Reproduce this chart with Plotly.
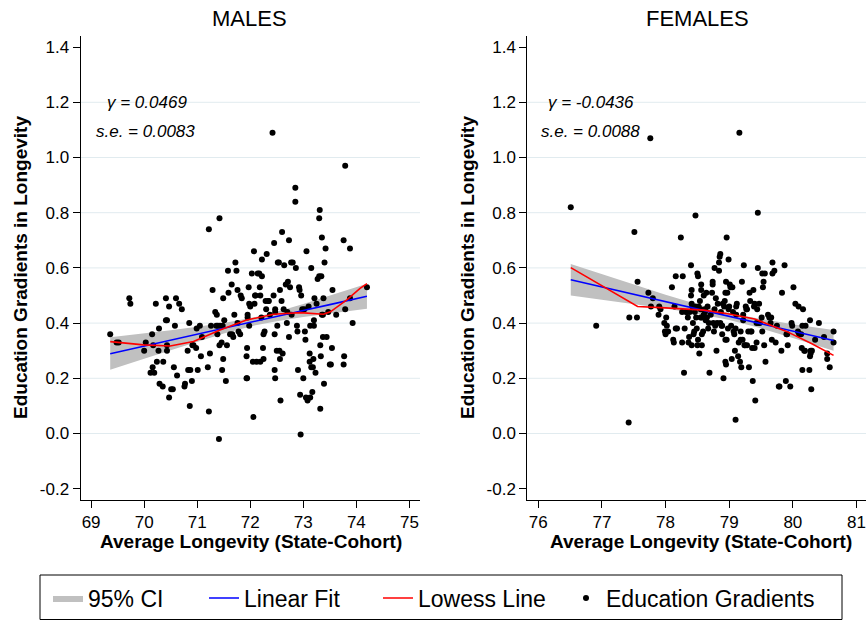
import plotly.graph_objects as go

# ---------------- data ----------------
male_x = [69.36, 69.48, 69.52, 69.72, 69.74, 70.00, 70.03, 70.12, 70.15, 70.16, 70.17, 70.19, 70.22, 70.24,
          70.27, 70.28, 70.29, 70.35, 70.36, 70.41, 70.41, 70.43, 70.43, 70.43, 70.47, 70.47, 70.51, 70.54,
          70.56, 70.58, 70.60, 70.62, 70.66, 70.71, 70.76, 70.77, 70.82, 70.83, 70.85, 70.86, 70.87, 70.90,
          70.91, 70.93, 70.98, 70.99, 71.01, 71.05, 71.07, 71.09, 71.20, 71.22, 71.22, 71.24, 71.26, 71.29,
          71.34, 71.36, 71.37, 71.38, 71.39, 71.41, 71.42, 71.42, 71.43, 71.46, 71.47, 71.48, 71.49, 71.49,
          71.51, 71.54, 71.56, 71.58, 71.59, 71.62, 71.65, 71.66, 71.68, 71.70, 71.72, 71.74, 71.76, 71.76,
          71.78, 71.81, 71.82, 71.84, 71.93, 71.93, 71.94, 71.94, 71.95, 71.95, 71.97, 71.98, 71.98, 72.00,
          72.03, 72.05, 72.06, 72.07, 72.08, 72.09, 72.10, 72.12, 72.14, 72.17, 72.18, 72.19, 72.19, 72.21,
          72.22, 72.22, 72.24, 72.25, 72.25, 72.27, 72.29, 72.30, 72.31, 72.34, 72.35, 72.37, 72.42, 72.44,
          72.45, 72.46, 72.46, 72.47, 72.47, 72.47, 72.50, 72.51, 72.52, 72.54, 72.55, 72.56, 72.56, 72.57,
          72.59, 72.60, 72.61, 72.63, 72.64, 72.67, 72.69, 72.70, 72.71, 72.73, 72.73, 72.75, 72.77, 72.78,
          72.80, 72.85, 72.85, 72.86, 72.88, 72.89, 72.90, 72.92, 72.93, 72.94, 72.95, 72.96, 72.98, 73.00,
          73.02, 73.03, 73.04, 73.05, 73.06, 73.08, 73.10, 73.12, 73.12, 73.13, 73.13, 73.15, 73.15, 73.17,
          73.18, 73.19, 73.20, 73.20, 73.21, 73.23, 73.25, 73.27, 73.30, 73.30, 73.31, 73.32, 73.32, 73.33,
          73.34, 73.35, 73.35, 73.37, 73.37, 73.38, 73.39, 73.40, 73.42, 73.44, 73.47, 73.50, 73.52, 73.54,
          73.55, 73.62, 73.76, 73.76, 73.77, 73.79, 73.79, 73.88, 73.88, 73.93, 74.20]
male_y = [0.36, 0.33, 0.33, 0.49, 0.47, 0.30, 0.33, 0.22, 0.36, 0.24, 0.32, 0.22, 0.47, 0.26,
          0.30, 0.38, 0.18, 0.17, 0.26, 0.49, 0.41, 0.41, 0.32, 0.30, 0.13, 0.46, 0.16, 0.16,
          0.24, 0.39, 0.49, 0.21, 0.47, 0.45, 0.17, 0.18, 0.30, 0.23, 0.40, 0.10, 0.23, 0.19,
          0.32, 0.32, 0.31, 0.38, 0.23, 0.39, 0.28, 0.35, 0.24, 0.08, 0.74, 0.29, 0.39, 0.52,
          0.44, 0.39, 0.43, 0.36, 0.39, -0.02, 0.78, 0.32, 0.39, 0.33, 0.23, 0.39, 0.27, 0.49,
          0.41, 0.19, 0.32, 0.59, 0.51, 0.36, 0.54, 0.36, 0.35, 0.43, 0.62, 0.59, 0.40, 0.52,
          0.37, 0.36, 0.50, 0.49, 0.28, 0.20, 0.20, 0.31, 0.43, 0.42, 0.53, 0.47, 0.39, 0.46,
          0.58, 0.26, 0.06, 0.66, 0.47, 0.50, 0.50, 0.26, 0.58, 0.58, 0.53, 0.26, 0.50, 0.42,
          0.63, 0.57, 0.31, 0.36, 0.27, 0.37, 0.48, 0.45, 0.65, 0.48, 0.48, 0.43, 1.09, 0.50,
          0.69, 0.23, 0.36, 0.20, 0.45, 0.44, 0.30, 0.39, 0.62, 0.62, 0.30, 0.27, 0.52, 0.12,
          0.48, 0.73, 0.29, 0.45, 0.61, 0.54, 0.40, 0.44, 0.55, 0.70, 0.35, 0.53, 0.62, 0.43,
          0.62, 0.89, 0.84, 0.60, 0.39, 0.37, 0.23, 0.53, 0.52, 0.14, -0.004, 0.50, 0.45, 0.20,
          0.45, 0.37, 0.34, 0.13, 0.66, 0.12, 0.46, 0.26, 0.29, 0.13, 0.39, 0.60, 0.24, 0.15,
          0.24, 0.27, 0.41, 0.39, 0.49, 0.22, 0.47, 0.56, 0.57, 0.78, 0.81, 0.09, 0.32, 0.28,
          0.57, 0.71, 0.43, 0.43, 0.35, 0.49, 0.18, 0.62, 0.67, 0.35, 0.44, 0.25, 0.25, 0.31,
          0.52, 0.43, 0.70, 0.25, 0.28, 0.97, 0.45, 0.67, 0.49, 0.40, 0.53]

female_x = [76.51, 76.91, 77.42, 77.43, 77.51, 77.55, 77.56, 77.73, 77.76, 77.77, 77.80, 77.89, 77.90, 77.92,
            77.98, 77.99, 78.00, 78.01, 78.02, 78.04, 78.10, 78.12, 78.13, 78.14, 78.16, 78.16, 78.18, 78.24,
            78.26, 78.26, 78.27, 78.29, 78.30, 78.32, 78.34, 78.35, 78.36, 78.37, 78.38, 78.40, 78.40, 78.41,
            78.41, 78.41, 78.42, 78.43, 78.44, 78.45, 78.46, 78.47, 78.47, 78.48, 78.49, 78.50, 78.50, 78.51,
            78.51, 78.52, 78.53, 78.54, 78.55, 78.55, 78.56, 78.56, 78.57, 78.57, 78.57, 78.59, 78.60, 78.60,
            78.62, 78.62, 78.63, 78.64, 78.65, 78.66, 78.67, 78.68, 78.69, 78.71, 78.73, 78.74, 78.74, 78.75,
            78.76, 78.77, 78.77, 78.78, 78.79, 78.80, 78.81, 78.82, 78.84, 78.84, 78.85, 78.86, 78.86, 78.87,
            78.88, 78.89, 78.89, 78.90, 78.91, 78.92, 78.93, 78.94, 78.94, 78.94, 78.95, 78.95, 78.96, 78.96,
            78.97, 78.98, 78.99, 78.99, 79.00, 79.01, 79.02, 79.03, 79.04, 79.05, 79.06, 79.07, 79.08, 79.09,
            79.10, 79.10, 79.11, 79.11, 79.12, 79.14, 79.15, 79.16, 79.17, 79.18, 79.18, 79.19, 79.20, 79.21,
            79.22, 79.22, 79.23, 79.24, 79.25, 79.26, 79.27, 79.28, 79.28, 79.30, 79.31, 79.32, 79.33, 79.34,
            79.35, 79.36, 79.37, 79.38, 79.39, 79.40, 79.40, 79.41, 79.43, 79.43, 79.44, 79.45, 79.45, 79.46,
            79.47, 79.48, 79.51, 79.52, 79.52, 79.53, 79.54, 79.55, 79.56, 79.57, 79.61, 79.63, 79.65, 79.66,
            79.67, 79.68, 79.68, 79.71, 79.73, 79.75, 79.78, 79.79, 79.82, 79.83, 79.87, 79.89, 79.90, 79.91,
            79.92, 79.96, 79.98, 79.99, 80.01, 80.04, 80.08, 80.09, 80.10, 80.13, 80.14, 80.15, 80.15, 80.16,
            80.18, 80.19, 80.20, 80.26, 80.27, 80.27, 80.28, 80.28, 80.29, 80.30, 80.35, 80.41, 80.49, 80.54,
            80.54, 80.58, 80.64, 80.64]
female_y = [0.82, 0.39, 0.04, 0.42, 0.73, 0.42, 0.55, 0.51, 1.07, 0.46, 0.49, 0.43, 0.46, 0.45,
            0.40, 0.37, 0.36, 0.42, 0.39, 0.37, 0.53, 0.34, 0.33, 0.46, 0.38, 0.57, 0.38, 0.71,
            0.33, 0.44, 0.57, 0.22, 0.38, 0.44, 0.44, 0.42, 0.33, 0.35, 0.44, 0.61, 0.50, 0.32,
            0.52, 0.47, 0.46, 0.40, 0.36, 0.37, 0.44, 0.46, 0.79, 0.42, 0.38, 0.32, 0.58, 0.57,
            0.34, 0.46, 0.29, 0.48, 0.45, 0.42, 0.52, 0.54, 0.42, 0.32, 0.36, 0.37, 0.50, 0.43,
            0.44, 0.45, 0.41, 0.51, 0.42, 0.46, 0.38, 0.40, 0.22, 0.43, 0.51, 0.54, 0.55, 0.40,
            0.37, 0.45, 0.60, 0.39, 0.49, 0.30, 0.40, 0.47, 0.59, 0.62, 0.64, 0.65, 0.40, 0.44,
            0.39, 0.36, 0.39, 0.47, 0.20, 0.46, 0.48, 0.51, 0.34, 0.26, 0.55, 0.25, 0.34, 0.71,
            0.51, 0.38, 0.63, 0.45, 0.46, 0.54, 0.53, 0.39, 0.27, 0.53, 0.44, 0.37, 0.36, 0.30,
            0.05, 0.38, 0.46, 0.43, 0.47, 0.28, 0.33, 1.09, 0.26, 0.34, 0.37, 0.24, 0.55, 0.34,
            0.43, 0.41, 0.61, 0.32, 0.32, 0.46, 0.45, 0.45, 0.32, 0.37, 0.24, 0.51, 0.48, 0.37,
            0.37, 0.31, 0.19, 0.52, 0.46, 0.47, 0.31, 0.12, 0.33, 0.40, 0.45, 0.60, 0.80, 0.40,
            0.47, 0.40, 0.42, 0.37, 0.58, 0.53, 0.55, 0.32, 0.58, 0.26, 0.43, 0.42, 0.40, 0.42,
            0.34, 0.58, 0.62, 0.59, 0.33, 0.39, 0.17, 0.17, 0.30, 0.51, 0.61, 0.19, 0.36, 0.36,
            0.32, 0.17, 0.40, 0.39, 0.53, 0.47, 0.37, 0.46, 0.36, 0.36, 0.31, 0.23, 0.39, 0.45,
            0.30, 0.30, 0.39, 0.23, 0.28, 0.41, 0.30, 0.29, 0.16, 0.30, 0.34, 0.40, 0.35, 0.27,
            0.29, 0.24, 0.37, 0.33]

# linear fit with 95% CI (read at a few x positions)
male_fit_x = [69.36, 70.0, 70.5, 71.0, 71.5, 72.1, 72.5, 73.0, 73.5, 74.2]
male_fit_y = [0.289, 0.317, 0.338, 0.360, 0.381, 0.407, 0.424, 0.446, 0.467, 0.497]
male_ci_hi = [0.349, 0.362, 0.374, 0.387, 0.400, 0.422, 0.441, 0.469, 0.499, 0.543]
male_ci_lo = [0.231, 0.271, 0.302, 0.333, 0.362, 0.392, 0.407, 0.422, 0.435, 0.452]
male_low_x = [69.36, 69.99, 70.49, 70.93, 71.43, 71.93, 72.44, 72.94, 73.38, 73.51, 73.82, 74.07, 74.20]
male_low_y = [0.333, 0.321, 0.317, 0.333, 0.375, 0.411, 0.432, 0.438, 0.432, 0.441, 0.484, 0.526, 0.543]

female_fit_x = [76.51, 77.0, 77.5, 78.0, 78.5, 79.0, 79.5, 80.0, 80.64]
female_fit_y = [0.557, 0.531, 0.504, 0.478, 0.451, 0.424, 0.398, 0.371, 0.337]
female_ci_hi = [0.614, 0.577, 0.539, 0.503, 0.468, 0.437, 0.415, 0.396, 0.375]
female_ci_lo = [0.500, 0.485, 0.469, 0.453, 0.434, 0.411, 0.381, 0.346, 0.300]
female_low_x = [76.51, 77.56, 78.0, 78.6, 79.0, 79.4, 79.9, 80.3, 80.64]
female_low_y = [0.601, 0.460, 0.455, 0.447, 0.433, 0.415, 0.370, 0.325, 0.283]

male_stats = ("0.0469", "0.0083")
female_stats = ("-0.0436", "0.0088")

panel_titles = ["MALES", "FEMALES"]
y_title = "Education Gradients in Longevity"
x_title = "Average Longevity (State-Cohort)"
legend_names = ["95% CI", "Linear Fit", "Lowess Line", "Education Gradients"]
y_ticks = [-0.2, 0.0, 0.2, 0.4, 0.6, 0.8, 1.0, 1.2, 1.4]
y_ticktext = ["-0.2", "0.0", "0.2", "0.4", "0.6", "0.8", "1.0", "1.2", "1.4"]
grid_vals = [0.0, 0.2, 0.4, 0.6, 0.8, 1.0, 1.2]
male_xticks = [69, 70, 71, 72, 73, 74, 75]
female_xticks = [76, 77, 78, 79, 80, 81]

# ---------------- styling ----------------
W, H = 866, 621
FONT = "Liberation Sans, Arial, Helvetica, sans-serif"
CI_COLOR = "#c0c0c0"
GRID = "#e1ebef"

fig = go.Figure()

panels = [
    dict(xa="x", ya="y", px=male_x, py=male_y, fx=male_fit_x, fy=male_fit_y, hi=male_ci_hi, lo=male_ci_lo,
         lx=male_low_x, ly=male_low_y, show=True),
    dict(xa="x2", ya="y2", px=female_x, py=female_y, fx=female_fit_x, fy=female_fit_y, hi=female_ci_hi,
         lo=female_ci_lo, lx=female_low_x, ly=female_low_y, show=False),
]

for p in panels:
    fig.add_trace(go.Scatter(
        x=p["fx"] + p["fx"][::-1], y=p["hi"] + p["lo"][::-1],
        fill="toself", fillcolor=CI_COLOR, line=dict(width=0, color=CI_COLOR), mode="lines",
        name=legend_names[0], showlegend=p["show"], legend="legend", xaxis=p["xa"], yaxis=p["ya"],
        hoverinfo="skip"))
    fig.add_trace(go.Scatter(
        x=p["px"], y=p["py"], mode="markers", marker=dict(color="black", size=6),
        name=legend_names[3], showlegend=p["show"], legend="legend4", xaxis=p["xa"], yaxis=p["ya"]))
    fig.add_trace(go.Scatter(
        x=p["fx"], y=p["fy"], mode="lines", line=dict(color="#0000ff", width=1.6),
        name=legend_names[1], showlegend=p["show"], legend="legend2", xaxis=p["xa"], yaxis=p["ya"]))
    fig.add_trace(go.Scatter(
        x=p["lx"], y=p["ly"], mode="lines", line=dict(color="#ff0000", width=1.6),
        name=legend_names[2], showlegend=p["show"], legend="legend3", xaxis=p["xa"], yaxis=p["ya"]))

ydom = [1 - 499.5 / H, 1 - 36.3 / H]
yrange = [-0.2391, 1.4391]
axis_common = dict(showline=True, linecolor="black", linewidth=1, ticks="outside", ticklen=7,
                   tickwidth=1, tickcolor="black", showgrid=False, zeroline=False,
                   tickfont=dict(family=FONT, size=17, color="black"))

fig.update_layout(
    xaxis=dict(domain=[80.5 / W, 420 / W], range=[68.80, 75.20], tickvals=male_xticks, anchor="y",
               **axis_common),
    yaxis=dict(domain=ydom, range=yrange, tickvals=y_ticks, ticktext=y_ticktext, anchor="x",
               **axis_common),
    xaxis2=dict(domain=[527.3 / W, 1.0], range=[75.827, 81.15], tickvals=female_xticks, anchor="y2",
                **axis_common),
    yaxis2=dict(domain=ydom, range=yrange, tickvals=y_ticks, ticktext=y_ticktext, anchor="x2",
                **axis_common),
)

# gridlines (Stata draws them only at interior ticks)
for xr in ["x", "x2"]:
    yr = "y" if xr == "x" else "y2"
    for g in grid_vals:
        fig.add_shape(type="line", xref=f"{xr} domain", yref=yr, x0=0, x1=1, y0=g, y1=g,
                      line=dict(color=GRID, width=1), layer="below")

ann = []
for title, cx in zip(panel_titles, [250, 697]):
    ann.append(dict(text=title, x=cx / W, y=1 - 18 / H, xref="paper", yref="paper", showarrow=False,
                    xanchor="center", yanchor="middle", font=dict(family=FONT, size=22, color="black")))
for cx in [21, 468]:
    ann.append(dict(text=f"<b>{y_title}</b>", x=cx / W, y=1 - 268 / H, xref="paper", yref="paper",
                    showarrow=False, textangle=-90, xanchor="center", yanchor="middle",
                    font=dict(family=FONT, size=19, color="black")))
for cx in [251, 701]:
    ann.append(dict(text=f"<b>{x_title}</b>", x=cx / W, y=1 - 541 / H, xref="paper", yref="paper",
                    showarrow=False, xanchor="center", yanchor="middle",
                    font=dict(family=FONT, size=19, color="black")))
for stats, gx, sx in [(male_stats, 105, 94), (female_stats, 546, 539)]:
    ann.append(dict(text=f"<i>γ = {stats[0]}</i>", x=gx / W, y=1 - 103 / H, xref="paper", yref="paper",
                    showarrow=False, xanchor="left", yanchor="middle",
                    font=dict(family=FONT, size=17, color="black")))
    ann.append(dict(text=f"<i>s.e. = {stats[1]}</i>", x=sx / W, y=1 - 131 / H, xref="paper", yref="paper",
                    showarrow=False, xanchor="left", yanchor="middle",
                    font=dict(family=FONT, size=17, color="black")))

# legend box + four positioned legends
fig.add_shape(type="rect", xref="paper", yref="paper", x0=40 / W, x1=842 / W, y0=1 - 619.5 / H,
              y1=1 - 575 / H, line=dict(color="black", width=1), fillcolor="white", layer="below")
leg_common = dict(orientation="h", yanchor="middle", y=1 - 598 / H, xanchor="left",
                  bgcolor="rgba(0,0,0,0)", borderwidth=0, itemwidth=30,
                  font=dict(family=FONT, size=23, color="black"))
fig.update_layout(
    legend=dict(x=48 / W, **leg_common),
    legend2=dict(x=204 / W, **leg_common),
    legend3=dict(x=378 / W, **leg_common),
    legend4=dict(x=566 / W, **leg_common),
)

fig.update_layout(
    width=W, height=H, margin=dict(l=0, r=0, t=0, b=0),
    paper_bgcolor="white", plot_bgcolor="white",
    font=dict(family=FONT, color="black"),
    annotations=ann, hovermode=False,
)

fig.write_html("out.html")
